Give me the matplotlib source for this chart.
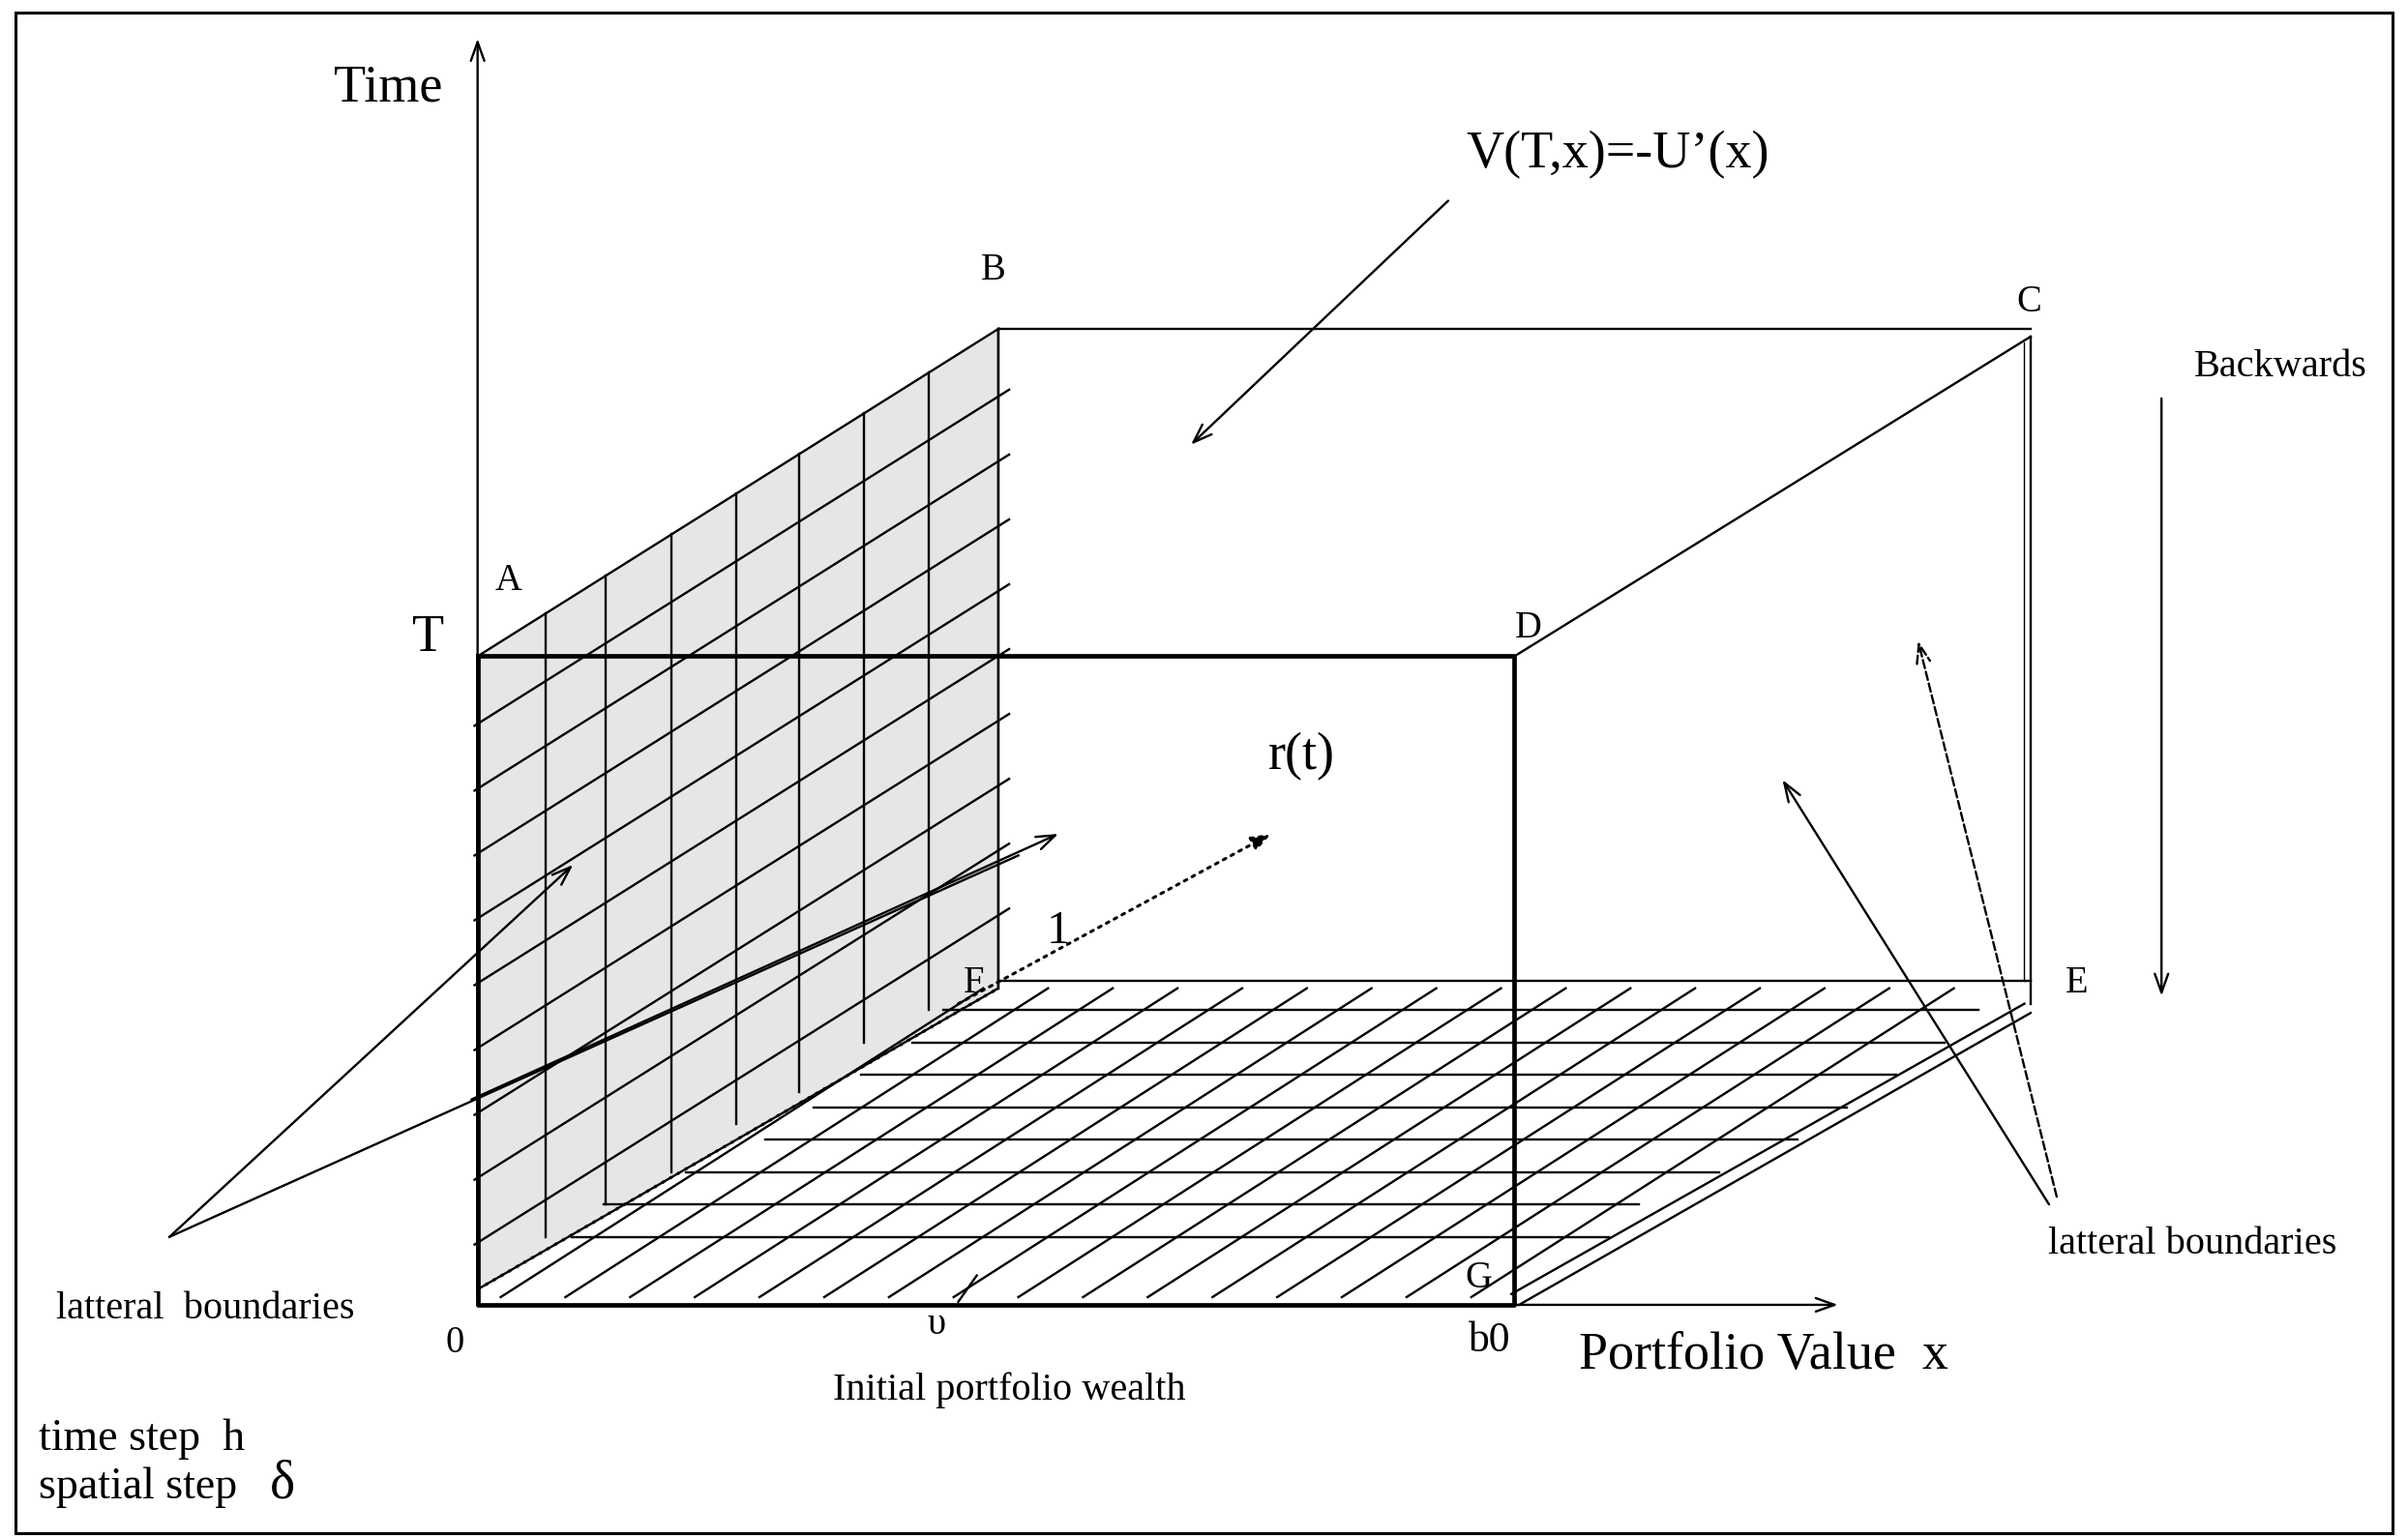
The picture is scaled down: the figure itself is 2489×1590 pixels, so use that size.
import numpy as np
import matplotlib
matplotlib.use("Agg")
import matplotlib.pyplot as plt
from matplotlib.patches import Polygon, Rectangle

plt.rcParams["font.family"] = ["Liberation Serif", "DejaVu Serif"]

# box corners (picture units, y down)
front = [(310, 425), (983, 425), (983, 845), (310, 845)]
face_left = [(310, 425), (648, 213), (648, 640), (310, 835)]
B, C, D, E = (648, 213), (1318, 213), (983, 425), (1318, 635)

# grid on the shaded face
face_vx = [354, 393, 436, 478, 519, 561, 603]
face_vbot = [801, 780, 759, 728, 707, 675, 654]
face_y0 = [470, 512, 554, 596, 638, 680, 722, 764, 806]

# floor grid
floor_hy = [654, 675, 696, 717, 738, 759, 780, 801]
floor_hx0 = [612, 592, 559, 528, 497, 445, 392, 371]
floor_hx1 = [1284, 1262, 1231, 1199, 1167, 1116, 1064, 1044]
floor_dx = [325 + 42 * k for k in range(16)]

labels = [
    ("A", 330, 376, 15), ("B", 645, 175, 15), ("C", 1317, 196, 15),
    ("D", 992, 407, 15), ("E", 1348, 637, 15), ("F", 632, 637, 15),
    ("G", 960, 828, 15), ("0", 295, 870, 15), ("\u03c5", 608, 858, 15),
    ("b0", 966, 868, 17), ("1", 687, 603, 19),
]

fig = plt.figure(figsize=(24.89, 15.90), dpi=100)
ax = fig.add_axes([0, 0, 1, 1])
ax.set_xlim(0, 1563)
ax.set_ylim(996, 0)
ax.axis("off")

lw = 1.7
k = dict(color="black", lw=lw)

ax.add_patch(Rectangle((10, 8), 1543, 985, fill=False, lw=2.2, ec="black"))
ax.add_patch(Polygon(face_left, closed=True, fc="#e6e6e6", ec="black", lw=lw))

top_slope = (425 - 213) / (648 - 310)
for x, yb in zip(face_vx, face_vbot):
    ax.plot([x, x], [425 - (x - 310) * top_slope, yb], **k)
for y0 in face_y0:
    ax.plot([308, 655], [y0, y0 - 347 * top_slope], **k)

# floor
ax.plot([648, E[0]], [635, 635], **k)
for y, x0, x1 in zip(floor_hy, floor_hx0, floor_hx1):
    ax.plot([x0, x1], [y, y], **k)
fl_slope = (845 - 640) / (648 - 310)
rt_slope = (838 - 650) / (1314 - 981)
for xb in floor_dx:
    yb = 840
    yt = 640
    xt = xb + (yb - yt) / fl_slope * 0.95
    # clip against the right floor edge
    t = np.linspace(0, 1, 400)
    xs = xb + (xt - xb) * t
    ys = yb + (yt - yb) * t
    yedge = 838 - (xs - 981) * rt_slope
    keep = ys <= yedge - 6
    if keep.any():
        ax.plot(xs[keep], ys[keep], **k)
ax.plot([981, 1314], [838, 650], **k)
ax.plot([986, 1318], [845, 656], **k)
ax.plot([310, 648], [835, 640], color="black", lw=2.2, ls=(0, (1, 2)))

# box edges
ax.plot([B[0], C[0]], [B[1], C[1]], **k)
ax.plot([B[0], B[0]], [B[1], 640], **k)
ax.plot([D[0], 1318], [D[1], 218], **k)
ax.plot([1318, 1318], [218, 650], **k)
ax.plot([1314, 1314], [222, 635], color="black", lw=1.0)
fx = [p[0] for p in front] + [front[0][0]]
fy = [p[1] for p in front] + [front[0][1]]
ax.plot(fx, fy, color="black", lw=3.4)

arr = dict(arrowstyle="->,head_length=1.4,head_width=0.5", color="black", lw=lw,
           shrinkA=0, shrinkB=0)
ax.annotate("", xy=(310, 25), xytext=(310, 845), arrowprops=arr)
ax.annotate("", xy=(1193, 845), xytext=(983, 845), arrowprops=arr)
ax.annotate("", xy=(1403, 645), xytext=(1403, 258), arrowprops=arr)
ax.annotate("", xy=(773, 288), xytext=(940, 130), arrowprops=arr)
ax.annotate("", xy=(372, 560), xytext=(110, 801), arrowprops=arr)
ax.plot([110, 661], [801, 554], **k)
ax.annotate("", xy=(687, 540), xytext=(306, 712), arrowprops=arr)
ax.annotate("", xy=(1157, 505), xytext=(1330, 780), arrowprops=arr)
ax.annotate("", xy=(1245, 415), xytext=(1335, 775),
            arrowprops=dict(arrowstyle="->,head_length=1.4,head_width=0.5",
                            color="black", lw=lw, ls="--", shrinkA=0, shrinkB=0))
ax.annotate("", xy=(825, 540), xytext=(622, 650),
            arrowprops=dict(arrowstyle="-|>,head_length=1.2,head_width=0.45",
                            color="black", lw=2.2, ls=(0, (1, 2)), shrinkA=0, shrinkB=0))
ax.plot([622, 634], [843, 826], **k)

for s, x, y, fs in labels:
    ax.text(x, y, s, fontsize=fs * 1.85, ha="center", va="center")

big = 39
small = 29
ax.text(252, 57, "Time", fontsize=big, ha="center", va="center")
ax.text(278, 413, "T", fontsize=big, ha="center", va="center")
ax.text(1050, 100, "V(T,x)=-U\u2019(x)", fontsize=big, ha="center", va="center")
ax.text(845, 490, "r(t)", fontsize=big, ha="center", va="center")
ax.text(1145, 878, "Portfolio Value  x", fontsize=big, ha="center", va="center")
ax.text(1480, 238, "Backwards", fontsize=small, ha="center", va="center")
ax.text(1423, 806, "latteral boundaries", fontsize=small, ha="center", va="center")
ax.text(133, 848, "latteral  boundaries", fontsize=small, ha="center", va="center")
ax.text(655, 900, "Initial portfolio wealth", fontsize=small, ha="center", va="center")
ax.text(25, 932, "time step  h", fontsize=33, ha="left", va="center")
ax.text(25, 963, "spatial step", fontsize=33, ha="left", va="center")
ax.text(175, 961, "\u03b4", fontsize=40, ha="left", va="center")

fig.savefig("out.png", dpi=100)
